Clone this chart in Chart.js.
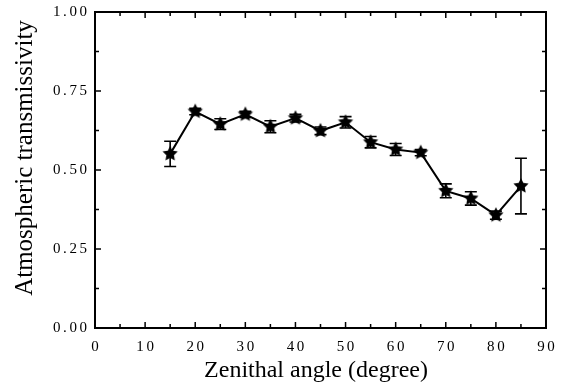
<!DOCTYPE html>
<html>
<head>
<meta charset="utf-8">
<script src="https://cdn.jsdelivr.net/npm/chart.js@4"></script>
<style>
  html, body { margin: 0; padding: 0; background: #fff; }
  #wrap { width: 564px; height: 385px; }
</style>
</head>
<body>
<div id="wrap"><canvas id="grafico"></canvas></div>
<script>
// zenithal angles (degree)
const angoli = [15, 20, 25, 30, 35, 40, 45, 50, 55, 60, 65, 70, 75, 80, 85];
// atmospheric transmissivity
const trasmissivita = [0.551, 0.685, 0.645, 0.676, 0.637, 0.664, 0.624, 0.651, 0.588, 0.565, 0.555, 0.434, 0.410, 0.357, 0.449];
// half length of error bars
const errori = [0.040, 0.010, 0.017, 0.010, 0.019, 0.012, 0.012, 0.018, 0.018, 0.019, 0.010, 0.022, 0.021, 0.013, 0.088];

const xTicks = [0, 10, 20, 30, 40, 50, 60, 70, 80, 90];
const yTicks = [0, 0.25, 0.5, 0.75, 1.0];

const titoloX = 'Zenithal angle (degree)';
const titoloY = 'Atmospheric transmissivity';

const fontTick = '15px "Liberation Serif"';
const spaziatura = 2.6;

// filled five point star used as marker
function creaStella(r) {
    const c = document.createElement('canvas');
    c.width = r * 2 + 2;
    c.height = r * 2 + 2;
    const g = c.getContext('2d');
    g.translate(r + 1, r + 1);
    g.beginPath();
    for (let i = 0; i < 10; i++) {
        const rad = i % 2 === 0 ? r : r * 0.5;
        const a = -Math.PI / 2 + i * Math.PI / 5;
        g.lineTo(Math.cos(a) * rad, Math.sin(a) * rad);
    }
    g.closePath();
    g.fillStyle = '#000';
    g.fill();
    return c;
}

// text with wide letter spacing, like the original figure
function testoSpaziato(ctx, testo, x, y, allinea) {
    const larghezze = [...testo].map(ch => ctx.measureText(ch).width);
    const totale = larghezze.reduce((a, b) => a + b, 0) + spaziatura * (testo.length - 1);
    let start = x;
    if (allinea === 'center') start = x - totale / 2;
    if (allinea === 'right') start = x - totale;
    ctx.textAlign = 'left';
    [...testo].forEach((ch, i) => {
        ctx.fillText(ch, start, y);
        start += larghezze[i] + spaziatura;
    });
}

const erroriPlugin = {
    id: 'barreErrore',
    afterDatasetsDraw(chart) {
        const ctx = chart.ctx;
        const x = chart.scales.x, y = chart.scales.y;
        ctx.save();
        ctx.strokeStyle = '#000';
        ctx.lineWidth = 1.6;
        angoli.forEach((a, i) => {
            const px = x.getPixelForValue(a);
            const top = y.getPixelForValue(trasmissivita[i] + errori[i]);
            const bot = y.getPixelForValue(trasmissivita[i] - errori[i]);
            ctx.beginPath();
            ctx.moveTo(px, top); ctx.lineTo(px, bot);
            ctx.moveTo(px - 6, top); ctx.lineTo(px + 6, top);
            ctx.moveTo(px - 6, bot); ctx.lineTo(px + 6, bot);
            ctx.stroke();
        });
        ctx.restore();
    }
};

const cornicePlugin = {
    id: 'cornice',
    afterDraw(chart) {
        const ctx = chart.ctx;
        const area = chart.chartArea;
        const x = chart.scales.x, y = chart.scales.y;
        ctx.save();
        ctx.strokeStyle = '#000';
        ctx.lineWidth = 2;
        ctx.strokeRect(area.left, area.top, area.right - area.left, area.bottom - area.top);
        ctx.lineWidth = 1.5;
        ctx.beginPath();
        for (let v = 0; v <= 90; v += 5) {
            const px = x.getPixelForValue(v);
            const len = v % 10 === 0 ? 6 : 4;
            ctx.moveTo(px, area.bottom); ctx.lineTo(px, area.bottom - len);
            ctx.moveTo(px, area.top); ctx.lineTo(px, area.top + len);
        }
        for (let v = 0; v <= 1.0001; v += 0.125) {
            const py = y.getPixelForValue(v);
            const len = Math.round(v * 8) % 2 === 0 ? 6 : 4;
            ctx.moveTo(area.left, py); ctx.lineTo(area.left + len, py);
            ctx.moveTo(area.right, py); ctx.lineTo(area.right - len, py);
        }
        ctx.stroke();

        // tick labels
        ctx.fillStyle = '#000';
        ctx.font = fontTick;
        ctx.textBaseline = 'alphabetic';
        xTicks.forEach(v => {
            testoSpaziato(ctx, String(v), x.getPixelForValue(v), area.bottom + 23, 'center');
        });
        ctx.textBaseline = 'middle';
        yTicks.forEach(v => {
            testoSpaziato(ctx, v.toFixed(2), area.left - 8, y.getPixelForValue(v), 'right');
        });

        // axis titles
        ctx.textAlign = 'center';
        ctx.textBaseline = 'alphabetic';
        ctx.font = '24px "Liberation Serif"';
        ctx.fillText(titoloX, 316, 377);
        ctx.translate(32, 158);
        ctx.rotate(-Math.PI / 2);
        ctx.font = '25px "Liberation Serif"';
        ctx.fillText(titoloY, 0, 0);
        ctx.restore();
    }
};

const ctx = document.getElementById('grafico').getContext('2d');
new Chart(ctx, {
    type: 'line',
    data: {
        datasets: [{
            data: angoli.map((a, i) => ({ x: a, y: trasmissivita[i] })),
            borderColor: '#000',
            borderWidth: 2,
            pointStyle: creaStella(8),
            pointRadius: 8,
            tension: 0
        }]
    },
    options: {
        responsive: true,
        maintainAspectRatio: false,
        animation: false,
        layout: { padding: { top: 12, right: 18, left: 0, bottom: 0 } },
        plugins: { legend: { display: false }, tooltip: { enabled: false } },
        scales: {
            x: {
                type: 'linear',
                min: 0, max: 90,
                afterBuildTicks: s => { s.ticks = xTicks.map(v => ({ value: v })); },
                afterFit: s => { s.height = 57; },
                grid: { display: false, drawTicks: false },
                border: { display: false },
                ticks: { display: false },
                title: { display: false }
            },
            y: {
                type: 'linear',
                min: 0, max: 1,
                afterBuildTicks: s => { s.ticks = yTicks.map(v => ({ value: v })); },
                afterFit: s => { s.width = 95; },
                grid: { display: false, drawTicks: false },
                border: { display: false },
                ticks: { display: false },
                title: { display: false }
            }
        }
    },
    plugins: [erroriPlugin, cornicePlugin]
});
</script>
</body>
</html>
